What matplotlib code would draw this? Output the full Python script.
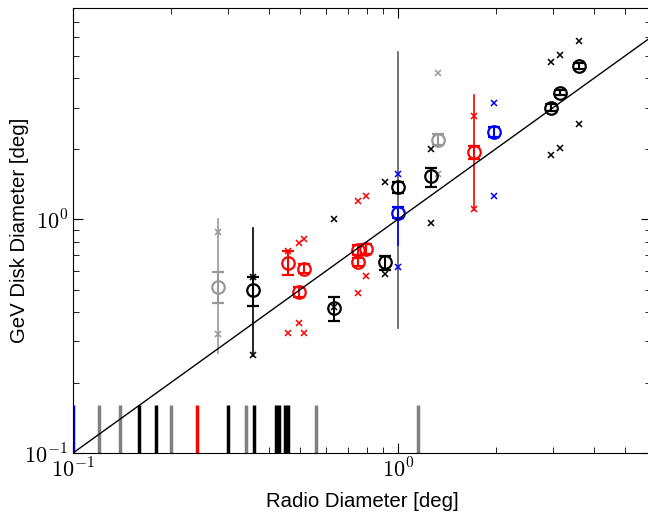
import matplotlib
matplotlib.use("Agg")
import matplotlib.pyplot as plt
import matplotlib.ticker as ticker
import numpy as np

plt.rcParams["mathtext.fontset"] = "cm"

# detected sources: radio diameter, GeV diameter and statistical range
src_x = [0.279, 0.359, 0.458, 0.497, 0.515, 0.635, 0.755, 0.797, 0.755, 0.912,
         1.0, 1.0, 1.263, 1.33, 1.717, 1.98, 2.96, 3.15, 3.6]
src_y = [0.514, 0.497, 0.650, 0.489, 0.611, 0.419, 0.737, 0.744, 0.657, 0.653,
         1.366, 1.064, 1.527, 2.176, 1.94, 2.36, 3.0, 3.48, 4.52]
src_lo = [0.439, 0.425, 0.576, 0.465, 0.588, 0.367, 0.70, 0.71, 0.63, 0.605,
          1.288, 1.007, 1.366, 2.07, 1.816, 2.25, 2.9, 3.38, 4.38]
src_hi = [0.595, 0.566, 0.730, 0.512, 0.640, 0.466, 0.775, 0.78, 0.685, 0.697,
          1.443, 1.129, 1.663, 2.32, 2.05, 2.48, 3.1, 3.58, 4.66]
src_color = ["0.6", "k", "r", "r", "r", "k", "r", "r", "r", "k",
             "k", "b", "k", "0.6", "r", "b", "k", "k", "k"]

# systematic ranges (thin lines, no caps)
sys_x = [0.279, 0.359, 1.0, 1.0, 1.717]
sys_lo = [0.268, 0.261, 0.341, 0.774, 1.093]
sys_hi = [1.0, 0.915, 5.19, 1.07, 3.39]
sys_color = ["0.6", "k", "0.35", "b", "r"]

# alternative fits (crosses)
alt_x = [0.279, 0.279, 0.359, 0.359, 0.458, 0.458, 0.497, 0.497, 0.515, 0.515,
         0.635, 0.635, 0.755, 0.755, 0.797, 0.797, 0.912, 0.912, 1.0, 1.0,
         1.263, 1.263, 1.33, 1.33, 1.717, 1.717, 1.98, 1.98, 2.96, 2.96,
         3.15, 3.15, 3.6, 3.6]
alt_y = [0.88, 0.323, 0.566, 0.263, 0.730, 0.325, 0.787, 0.360, 0.819, 0.327,
         1.0, 0.42, 1.2, 0.483, 1.254, 0.571, 1.443, 0.580, 1.567, 0.625,
         1.986, 0.964, 4.22, 1.567, 2.755, 1.103, 3.14, 1.254, 4.70, 1.89,
         5.06, 2.02, 5.76, 2.56]
alt_color = ["0.6", "0.6", "k", "k", "r", "r", "r", "r", "r", "r",
             "k", "k", "r", "r", "r", "r", "k", "k", "b", "b",
             "k", "k", "0.6", "0.6", "r", "r", "b", "b", "k", "k",
             "k", "k", "k", "k"]

# undetected sources, radio diameter only
ul_x = [0.1, 0.12, 0.14, 0.16, 0.18, 0.2, 0.24, 0.30, 0.34, 0.36,
        0.42, 0.43, 0.45, 0.46, 0.56, 1.15]
ul_color = ["b", "0.5", "0.5", "k", "k", "0.5", "r", "k", "0.5", "k",
            "k", "k", "k", "k", "0.5", "0.5"]

fig = plt.figure(figsize=(6.48, 5.12), dpi=100)
ax = fig.add_axes([73 / 648, 59 / 512, 578 / 648, 445 / 512])
ax.set_xscale("log")
ax.set_yscale("log")

ax.vlines(ul_x, 0.1, 0.16, colors=ul_color, linewidth=2.5, zorder=2)

for x, lo, hi, c in zip(sys_x, sys_lo, sys_hi, sys_color):
    ax.plot([x, x], [lo, hi], color=c, linewidth=1.2, zorder=3)

for x, y, c in zip(alt_x, alt_y, alt_color):
    ax.plot(x, y, "x", color=c, markersize=4, markeredgewidth=1.1, zorder=4)

for x, y, lo, hi, c in zip(src_x, src_y, src_lo, src_hi, src_color):
    ax.errorbar(x, y, yerr=[[y - lo], [hi - y]], fmt="o", mfc="none", mec=c,
                ecolor=c, markersize=9, markeredgewidth=1.6, elinewidth=1.5,
                capsize=4.5, capthick=1.5, zorder=5)

ax.plot([0.1, 6.0], [0.1, 6.0], color="k", linewidth=1.0, zorder=6)

ax.set_xlim(0.1, 6.0)
ax.set_ylim(0.1, 8.0)

decade = ticker.FuncFormatter(lambda v, pos: r"$10^{%d}$" % int(round(np.log10(v))))
ax.xaxis.set_major_formatter(decade)
ax.yaxis.set_major_formatter(decade)
ax.xaxis.set_minor_formatter(ticker.NullFormatter())
ax.yaxis.set_minor_formatter(ticker.NullFormatter())

ax.tick_params(which="both", direction="in", top=True, right=True, labelsize=16)
ax.tick_params(which="major", length=7)
ax.tick_params(which="minor", length=4)

ax.set_xlabel("Radio Diameter [deg]", family="Liberation Sans", fontsize=14.7, labelpad=7)
ax.set_ylabel("GeV Disk Diameter [deg]", family="Liberation Sans", fontsize=14.7)
ax.yaxis.set_label_coords(-0.076, 0.5)

fig.savefig("out.png")
